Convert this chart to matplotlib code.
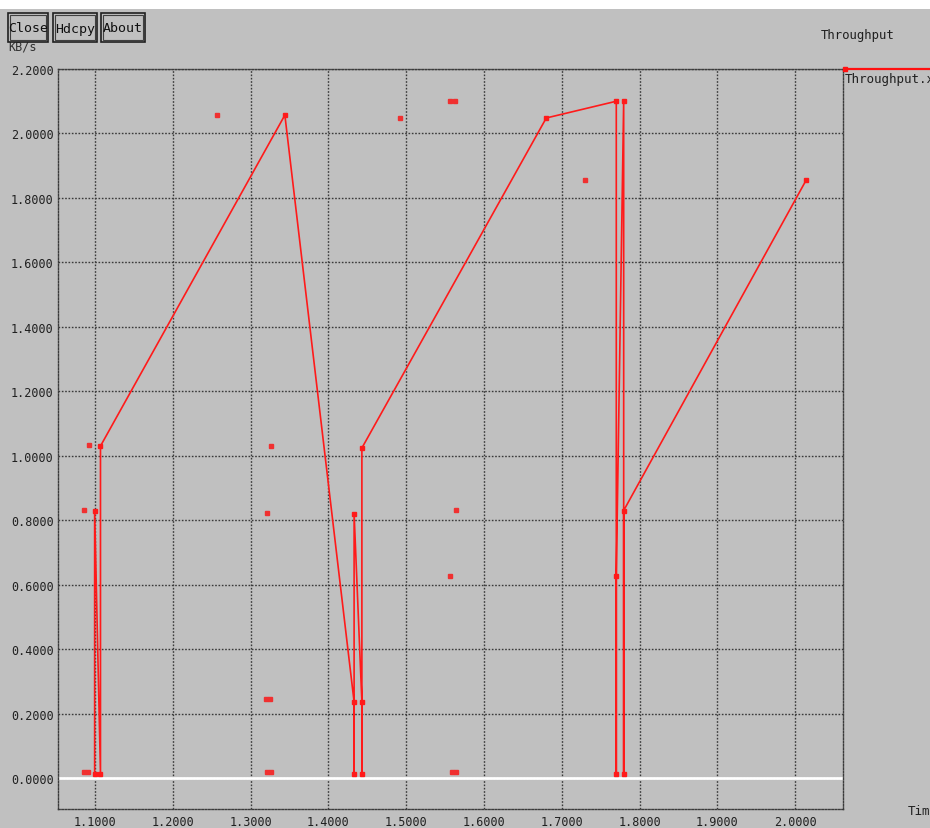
import numpy as np
import matplotlib.pyplot as plt
from matplotlib.patches import Rectangle
from matplotlib.lines import Line2D

# throughput trace (time in s, rate in KB/s)
time = [1.0995, 1.0995, 1.107, 1.107, 1.344, 1.433, 1.433, 1.433, 1.443, 1.443,
        1.443, 1.680, 1.770, 1.770, 1.770, 1.7795, 1.7795, 1.7795, 2.014]
thr = [0.013, 0.830, 0.013, 1.030, 2.057, 0.236, 0.012, 0.820, 0.236, 0.012,
       1.024, 2.048, 2.100, 0.012, 0.627, 2.100, 0.012, 0.830, 1.855]

# stray red dots left on the canvas
ghost_t = [1.0923, 1.0859, 1.0859, 1.0910, 1.2568, 1.3262, 1.3210, 1.3198, 1.3250,
           1.3210, 1.3260, 1.4920, 1.5560, 1.5630, 1.7300, 1.5640, 1.5560, 1.5590, 1.5640]
ghost_v = [1.033, 0.831, 0.019, 0.019, 2.057, 1.030, 0.822, 0.245, 0.245,
           0.019, 0.019, 2.048, 2.100, 2.100, 1.855, 0.831, 0.627, 0.019, 0.019]

xticks = [1.1, 1.2, 1.3, 1.4, 1.5, 1.6, 1.7, 1.8, 1.9, 2.0]
yticks = [0.0, 0.2, 0.4, 0.6, 0.8, 1.0, 1.2, 1.4, 1.6, 1.8, 2.0, 2.2]

W, H = 930, 829
BG = '#c0c0c0'
MONO = ['DejaVu Sans Mono']


def fx(px):
    return px / W


def fy(py):
    return 1 - py / H


fig = plt.figure(figsize=(W / 100, H / 100), dpi=100, facecolor=BG)
ax = fig.add_axes([fx(58), fy(810), fx(843) - fx(58), fy(70) - fy(810)])
ax.set_facecolor(BG)

ax.set_xlim(1.0524, 2.0614)
ax.set_ylim(-0.0962, 2.2)

dash = (0, (1.2, 1.2))
gridc = '#3a3a3a'
for t in xticks:
    ax.axvline(t, color=gridc, lw=1, ls=dash, zorder=1)
for v in yticks:
    ax.axhline(v, color=gridc, lw=1, ls=dash, zorder=1)
for s in ax.spines.values():
    s.set_linestyle(dash)
    s.set_color(gridc)
    s.set_linewidth(1)

ax.axhline(0, color='white', lw=2, zorder=2)

ax.plot(time, thr, color='#ff1a1a', lw=1.2, marker='s', ms=3.2, zorder=3)
ax.plot(ghost_t, ghost_v, ls='none', color='#f03030', marker='s', ms=2.2, zorder=3)

ax.set_xticks(xticks)
ax.set_xticklabels(['%.4f' % t for t in xticks], family=MONO, fontsize=8.5, color='#202020')
ax.set_yticks(yticks)
ax.set_yticklabels(['%.4f' % v for v in yticks], family=MONO, fontsize=8.5, color='#202020')
ax.tick_params(length=0)
ax.tick_params(axis='y', pad=3)
ax.tick_params(axis='x', pad=4)

# white strip at top of window
fig.patches.append(Rectangle((0, fy(10)), 1, 10 / H, transform=fig.transFigure,
                             facecolor='white', edgecolor='none', zorder=0))

# y unit label partly hidden by the buttons
fig.text(fx(8), fy(50), 'KB/s', family=MONO, fontsize=8.5, color='#303030',
         ha='left', va='baseline', zorder=1)

# buttons
for label, x0, x1 in [('Close', 8, 48), ('Hdcpy', 53, 97), ('About', 101, 145)]:
    fig.patches.append(Rectangle((fx(x0), fy(43)), fx(x1) - fx(x0), 29 / H,
                                 transform=fig.transFigure, facecolor=BG,
                                 edgecolor='#202020', lw=1.2, zorder=5))
    fig.patches.append(Rectangle((fx(x0 + 2), fy(41)), fx(x1 - 2) - fx(x0 + 2), 25 / H,
                                 transform=fig.transFigure, facecolor='none',
                                 edgecolor='#404040', lw=0.8, zorder=5))
    fig.text((fx(x0) + fx(x1)) / 2, fy(29), label, family=MONO, fontsize=9.5,
             color='#101010', ha='center', va='center', zorder=6)

fig.text(fx(821), fy(35), 'Throughput', family=MONO, fontsize=8.8, color='#202020',
         ha='left', va='center')

# legend entry
fig.lines.append(Line2D([fx(845), fx(935)], [fy(70), fy(70)], transform=fig.transFigure,
                        color='#ff1010', lw=1.6))
fig.lines.append(Line2D([fx(845)], [fy(70)], transform=fig.transFigure,
                        color='#ff1010', marker='s', ms=3.5))
fig.text(fx(845), fy(80), 'Throughput.xg', family=MONO, fontsize=9, color='#202020',
         ha='left', va='center')

fig.text(fx(908), fy(812), 'Time', family=MONO, fontsize=9, color='#202020',
         ha='left', va='center')

fig.savefig('out.png', dpi=100, facecolor=BG)
